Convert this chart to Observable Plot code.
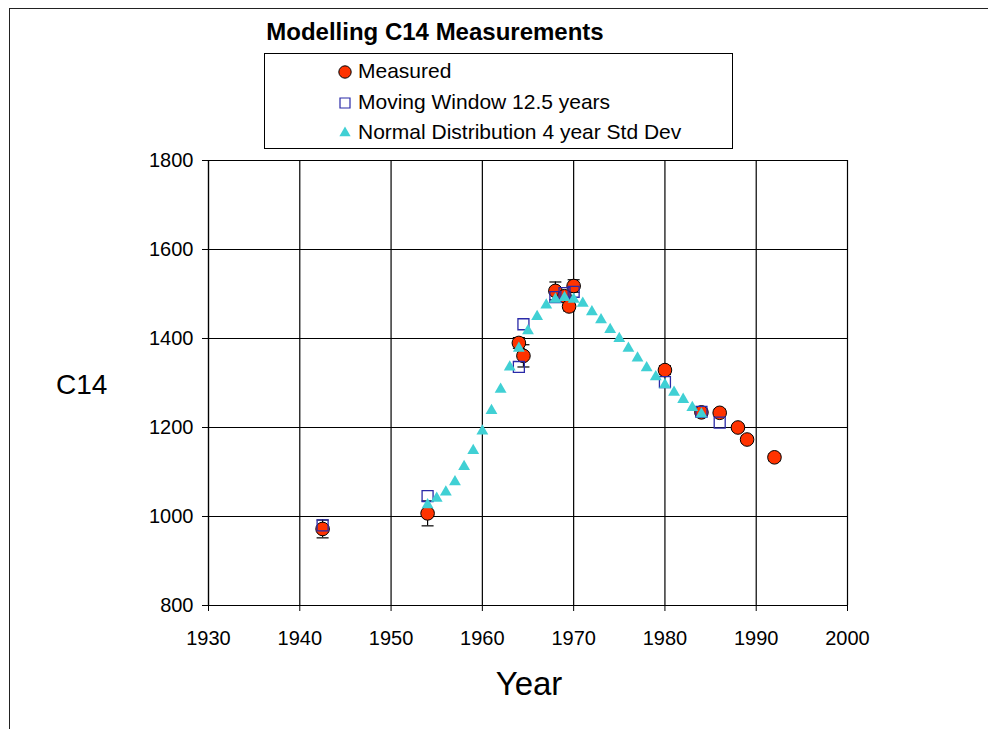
<!DOCTYPE html>
<html>
<head>
<meta charset="utf-8">
<script src="https://cdn.jsdelivr.net/npm/d3@7"></script>
<script src="https://cdn.jsdelivr.net/npm/@observablehq/plot@0.6"></script>
<style>
  html, body { margin: 0; padding: 0; background: #fff; }
  #wrap { position: relative; width: 988px; height: 729px; overflow: hidden; font-family: "Liberation Sans", Arial, sans-serif; }
  #wrap > svg { position: absolute; left: 0; top: 0; }
  .frame { position: absolute; left: 9px; top: 8px; width: 1000px; height: 800px; border: 1.5px solid #222; box-sizing: border-box; }
  .title { position: absolute; left: 0; width: 870px; top: 18px; text-align: center; font-weight: bold; font-size: 24px; line-height: 28px; color: #000; }
  .legend { position: absolute; left: 264px; top: 53px; width: 469px; height: 96px; border: 1px solid #000; background: #fff; box-sizing: border-box; }
  .legend .row { position: absolute; font-size: 21px; color: #000; white-space: nowrap; line-height: 21px; }
  .ylab { position: absolute; left: 56px; top: 369px; font-size: 28px; }
  .xlab { position: absolute; left: 0; width: 1058px; text-align: center; top: 665px; font-size: 33px; }
</style>
</head>
<body>
<div id="wrap"></div>
<script>
// ---- data ----
const xTicks = [1930, 1940, 1950, 1960, 1970, 1980, 1990, 2000];
const yTicks = [800, 1000, 1200, 1400, 1600, 1800];

const measuredYear  = [1942.5, 1954, 1964, 1964.5, 1968, 1969, 1969.5, 1970, 1980, 1984, 1986, 1988, 1989, 1992];
const measuredC14   = [972, 1007, 1390, 1361, 1507, 1495, 1472, 1518, 1329, 1234, 1233, 1200, 1173, 1133];
const measuredErr   = [20, 28, 12, 25, 20, 10, 10, 14, 10, 8, 8, 8, 8, 8];

const movingYear = [1942.5, 1954, 1964, 1964.5, 1968, 1969, 1970, 1980, 1984, 1986];
const movingC14  = [980, 1046, 1336, 1432, 1493, 1502, 1505, 1302, 1235, 1211];

const normalYear = [1954, 1955, 1956, 1957, 1958, 1959, 1960, 1961, 1962, 1963, 1964, 1965, 1966, 1967, 1968, 1969, 1970,
                    1971, 1972, 1973, 1974, 1975, 1976, 1977, 1978, 1979, 1980, 1981, 1982, 1983, 1984];
const normalC14  = [1026, 1041, 1055, 1078, 1112, 1148, 1192, 1238, 1286, 1336, 1378, 1417, 1449, 1475, 1488, 1492, 1488,
                    1479, 1460, 1442, 1420, 1400, 1378, 1356, 1334, 1314, 1296, 1279, 1263, 1245, 1230];

const seriesNames = ["Measured", "Moving Window 12.5 years", "Normal Distribution 4 year Std Dev"];
const titleText = "Modelling C14 Measurements";
const xLabel = "Year";
const yLabel = "C14";

// ---- build tables ----
const measured = measuredYear.map((x, i) => ({x, y: measuredC14[i], e: measuredErr[i]}));
const moving = movingYear.map((x, i) => ({x, y: movingC14[i]}));
const normal = normalYear.map((x, i) => ({x, y: normalC14[i]}));

const RED = "#ff3300", BLUE = "#2a2aa8", CYAN = "#40d0d4";
const cap = {draw(ctx, size) { const r = Math.sqrt(size / Math.PI); ctx.moveTo(-r, 0); ctx.lineTo(r, 0); }};

const chart = Plot.plot({
  width: 988, height: 729,
  marginLeft: 208, marginRight: 141, marginTop: 160, marginBottom: 124,
  style: {fontFamily: "Liberation Sans, Arial, sans-serif", fontSize: "20px", color: "#000", background: "transparent"},
  x: {domain: [1930, 2000], ticks: xTicks},
  y: {domain: [800, 1800], ticks: yTicks},
  marks: [
    Plot.gridX(xTicks, {stroke: "#000", strokeOpacity: 1, strokeWidth: 1.2}),
    Plot.gridY(yTicks, {stroke: "#000", strokeOpacity: 1, strokeWidth: 1.2}),
    Plot.ruleX([1930], {stroke: "#000", strokeWidth: 1.2}),
    Plot.ruleY([800], {stroke: "#000", strokeWidth: 1.2}),
    Plot.axisX(xTicks, {tickSize: 6, tickPadding: 19, tickFormat: d => String(d), fontSize: 20, label: null, stroke: "#000"}),
    Plot.axisY(yTicks, {tickSize: 6, tickPadding: 9, tickFormat: d => String(d), fontSize: 20, label: null, stroke: "#000"}),
    Plot.ruleX(measured, {x: "x", y1: d => d.y - d.e, y2: d => d.y + d.e, stroke: "#000", strokeWidth: 1.2}),
    Plot.dot(measured, {x: "x", y: d => d.y - d.e, symbol: cap, r: 6, stroke: "#000", strokeWidth: 1.2}),
    Plot.dot(measured, {x: "x", y: d => d.y + d.e, symbol: cap, r: 6, stroke: "#000", strokeWidth: 1.2}),
    Plot.dot(measured, {x: "x", y: "y", r: 6.8, fill: RED, stroke: "#000", strokeWidth: 1}),
    Plot.dot(moving, {x: "x", y: "y", symbol: "square", r: 6.2, fill: "none", stroke: BLUE, strokeWidth: 1.3}),
    Plot.dot(normal, {x: "x", y: "y", symbol: "triangle", r: 4.4, fill: CYAN, stroke: "none"})
  ]
});

const wrap = document.getElementById("wrap");
wrap.appendChild(chart);

function addDiv(cls, text) { const d = document.createElement("div"); d.className = cls; if (text != null) d.textContent = text; wrap.appendChild(d); return d; }
addDiv("frame");
addDiv("title", titleText);
addDiv("ylab", yLabel);
addDiv("xlab", xLabel);

// legend
const leg = addDiv("legend");
const symbols = [
  {sym: d3.symbolCircle, size: 120, fill: RED, stroke: "#000", sw: 1},
  {sym: d3.symbolSquare, size: 100, fill: "none", stroke: BLUE, sw: 1.2},
  {sym: d3.symbolTriangle, size: 55, fill: CYAN, stroke: "none", sw: 0}
];
const rowTops = [6, 37, 67];
seriesNames.forEach((name, i) => {
  const row = document.createElement("div");
  row.className = "row";
  row.style.top = rowTops[i] + "px";
  row.style.left = "72px";
  const s = symbols[i];
  const svg = d3.create("svg").attr("width", 16).attr("height", 16).style("margin-right", "5px").style("vertical-align", "-2px");
  svg.append("path").attr("transform", "translate(8,8)").attr("d", d3.symbol(s.sym, s.size)())
    .attr("fill", s.fill).attr("stroke", s.stroke).attr("stroke-width", s.sw);
  row.appendChild(svg.node());
  row.appendChild(document.createTextNode(name));
  leg.appendChild(row);
});
</script>
</body>
</html>
